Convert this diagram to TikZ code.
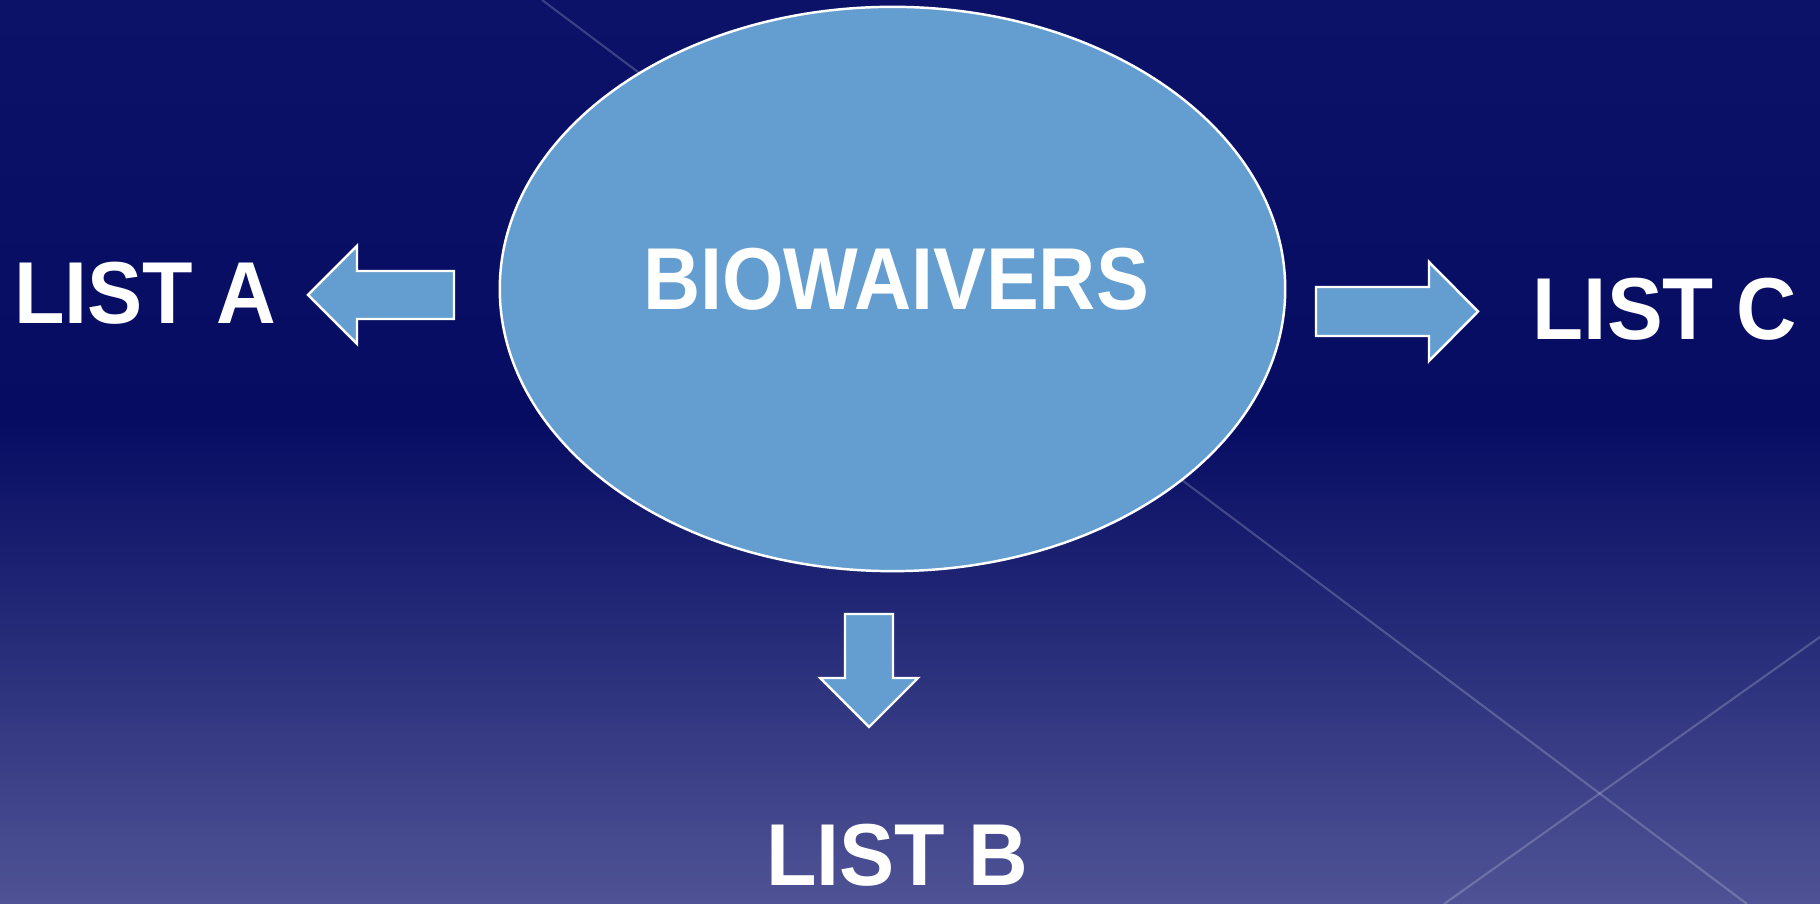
\documentclass[tikz,border=0pt]{standalone}
\usepackage{fontspec}
\setmainfont{Liberation Sans}
\usetikzlibrary{shapes.geometric, positioning}

\definecolor{bluefill}{RGB}{100,158,208}
\definecolor{bgtop}{RGB}{12,18,104}
\definecolor{bgmid}{RGB}{6,12,98}
\definecolor{bgbot}{RGB}{79,83,149}
\pgfdeclareverticalshading{slidebg}{100bp}{color(0bp)=(bgbot); color(25bp)=(bgbot); color(51.8bp)=(bgmid); color(75bp)=(bgtop); color(100bp)=(bgtop)}

\begin{document}
\begin{tikzpicture}[x=0.01cm, y=-0.01cm]
	\tikzstyle{label} = [text=white, inner sep=0pt, font=\bfseries\fontsize{25}{30}\selectfont]
	\tikzstyle{bgline} = [draw=white, opacity=0.2, line width=0.6pt]
	\tikzstyle{fat} = [fill=bluefill, draw=white, line width=0.7pt, line join=miter]

	\useasboundingbox (0,0) rectangle (1820,904);
	\shade[shading=slidebg] (0,0) rectangle (1820,904);

	% background lines
	\draw[bgline] (542,0) -- (1747,904);
	\draw[bgline] (1820,637) -- (1444,904);

	\node[ellipse, fill=bluefill, draw=white, line width=0.7pt, minimum width=7.85cm, minimum height=5.64cm] at (892.5,289) (bio) {};
	\node[label, xscale=0.9] 	at (896,279) 	(biotext) 	{BIOWAIVERS};
	\node[label, xscale=0.94] 	at (145,293) 	(lista) 	{LIST A};
	\node[label, xscale=0.94] 	at (897,855) 	(listb) 	{LIST B};
	\node[label, xscale=0.95] 	at (1665,309) 	(listc) 	{LIST C};

	% arrows
	\draw[fat] (454,271) -- (357,271) -- (357,246) -- (308,295) -- (357,344) -- (357,319) -- (454,319) -- cycle;
	\draw[fat] (1316,287) -- (1429,287) -- (1429,262) -- (1478,311.5) -- (1429,361) -- (1429,336) -- (1316,336) -- cycle;
	\draw[fat] (845,614) -- (845,678) -- (820,678) -- (869,727) -- (918,678) -- (893,678) -- (893,614) -- cycle;
\end{tikzpicture}
\end{document}
